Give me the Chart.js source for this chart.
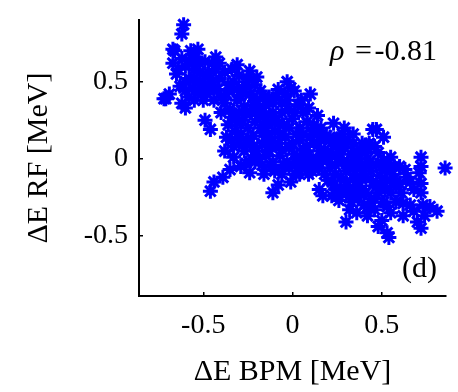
<!DOCTYPE html>
<html>
<head>
<meta charset="utf-8">
<script src="https://cdn.jsdelivr.net/npm/chart.js@4"></script>
<style>
  html, body { margin: 0; padding: 0; background: #fff; }
  #wrap { width: 458px; height: 392px; }
</style>
</head>
<body>
<div id="wrap"><canvas id="scatter"></canvas></div>
<script>
// energy deviation measured by the BPM (x) and by the RF (y), MeV
const dE_bpm = [
  -0.61, -0.62, -0.66, -0.67, -0.65, -0.71, -0.69, -0.62, -0.60, -0.55,
  -0.50, -0.57, -0.54, -0.49, -0.45, -0.43, -0.60, -0.58, -0.55, -0.52,
  -0.50, -0.47, -0.63, -0.60, -0.56, -0.53, -0.48, -0.45, -0.42, -0.40,
  -0.64, -0.52, -0.47, -0.58, -0.44, -0.53, -0.43, -0.41, -0.31, -0.24,
  -0.20, -0.67, -0.72, -0.49, -0.46,
  -0.34, -0.30, -0.25, -0.21, -0.18, -0.36, -0.33, -0.28, -0.24, -0.20,
  -0.38, -0.35, -0.31, -0.27, -0.23, -0.19, -0.15, -0.13, -0.36, -0.32,
  -0.28, -0.25, -0.22, -0.18, -0.14, -0.11, -0.30, -0.27, -0.24, -0.20,
  -0.17, -0.13, -0.10, -0.38, -0.33, -0.29, -0.26, -0.21, -0.17, -0.15,
  -0.44, -0.39, -0.46, -0.35, -0.24, -0.16,
  -0.08, -0.04, -0.03, 0.01, 0.10, -0.06, -0.02, 0.03, 0.06, -0.09,
  -0.05, 0.00, 0.04, 0.08, 0.12, 0.14, -0.08, -0.04, 0.00, 0.04,
  0.08, 0.12, 0.16, 0.18, -0.07, -0.03, 0.01, 0.05, 0.09, 0.13,
  0.17, -0.10, -0.06, -0.02, 0.03, 0.07, 0.11, -0.11, -0.08, -0.01,
  0.04, 0.12, -0.13, 0.15, 0.19, 0.05, -0.01,
  0.22, 0.25, 0.28, 0.31, 0.34, 0.38, 0.22, 0.26, 0.29, 0.33,
  0.37, 0.41, 0.44, 0.47, 0.51, 0.46, 0.55, 0.21, 0.24, 0.28,
  0.32, 0.35, 0.39, 0.43, 0.47, 0.51, 0.54, 0.20, 0.23, 0.27,
  0.30, 0.34, 0.37, 0.41, 0.45, 0.49, 0.53, 0.56, 0.22, 0.26,
  0.30, 0.33, 0.37, 0.40, 0.44, 0.48, 0.51, 0.55, 0.58, 0.30,
  0.32, 0.36, 0.42, 0.48, 0.46, 0.50, 0.53, 0.54, 0.55, 0.23,
  0.29, 0.34, 0.45, 0.15, 0.17,
  0.60, 0.63, 0.66, 0.61, 0.68, 0.72, 0.72, 0.71, 0.72, 0.72,
  0.855, 0.62, 0.62, 0.70, 0.72, 0.74, 0.77, 0.81, 0.73, 0.58,
  0.66,
  -0.62, -0.58, -0.55, -0.51, -0.46, -0.41, -0.38, -0.37, -0.33, -0.29,
  -0.26, -0.22, -0.16, -0.34, -0.30, -0.21, -0.16, -0.34, -0.23, -0.12,
  -0.11, -0.06, 0.02, 0.06, 0.10, 0.14, 0.02, 0.09, 0.20, 0.25,
  0.30, 0.36, 0.40, 0.43, 0.48, 0.52, 0.39, 0.47, 0.43, 0.35,
  0.25, 0.57, 0.64, 0.68, 0.53,
  -0.40, -0.37, -0.33, -0.31, -0.29, -0.26, -0.26, -0.22, -0.22, -0.19,
  -0.19, -0.16, -0.15, -0.14, -0.12, -0.11, -0.10, -0.09, -0.07, -0.06,
  -0.05, -0.03, -0.02, -0.02, 0.01, 0.02, 0.06, 0.07, 0.09, 0.10,
  0.11, 0.14, 0.15, 0.16, 0.18, 0.19, 0.21, 0.24, 0.26, 0.27,
  0.29, 0.31, 0.32, 0.34, 0.36, 0.38, 0.39, 0.41, 0.42, 0.44,
  0.46, 0.49, 0.50, 0.52, 0.57, 0.60, -0.56, -0.52, -0.49, -0.44,
  -0.60
];
const dE_rf = [
  0.87, 0.81, 0.70, 0.62, 0.55, 0.39, 0.42, 0.36, 0.33, 0.38,
  0.38, 0.70, 0.66, 0.63, 0.62, 0.58, 0.60, 0.52, 0.58, 0.50,
  0.55, 0.47, 0.47, 0.44, 0.46, 0.43, 0.42, 0.50, 0.45, 0.40,
  0.58, 0.62, 0.56, 0.40, 0.38, 0.71, 0.66, 0.62, 0.61, 0.57,
  0.53, 0.71, 0.39, 0.25, 0.19,
  0.58, 0.54, 0.52, 0.48, 0.44, 0.48, 0.45, 0.46, 0.42, 0.38,
  0.36, 0.32, 0.38, 0.34, 0.30, 0.28, 0.35, 0.40, 0.22, 0.18,
  0.25, 0.20, 0.15, 0.20, 0.24, 0.30, 0.10, 0.05, 0.10, 0.05,
  0.10, 0.14, 0.18, 0.05, 0.01, -0.05, -0.03, -0.02, -0.04, 0.02,
  -0.15, -0.12, -0.21, -0.07, -0.09, -0.10,
  0.45, 0.42, 0.50, 0.44, 0.42, 0.36, 0.32, 0.35, 0.30, 0.25,
  0.22, 0.26, 0.20, 0.24, 0.22, 0.16, 0.10, 0.14, 0.10, 0.12,
  0.08, 0.10, 0.12, 0.06, 0.02, -0.02, 0.03, -0.01, 0.02, -0.02,
  -0.01, -0.08, -0.10, -0.06, -0.08, -0.05, -0.08, -0.22, -0.17, -0.15,
  -0.10, -0.06, 0.05, 0.05, 0.15, 0.38, 0.46,
  0.10, 0.13, 0.16, 0.12, 0.10, 0.06, 0.02, 0.04, 0.07, 0.03,
  0.00, 0.04, 0.08, 0.19, 0.14, 0.08, 0.01, -0.06, -0.04, -0.02,
  -0.06, -0.08, -0.05, -0.02, -0.04, -0.01, -0.03, -0.14, -0.17, -0.12,
  -0.15, -0.13, -0.18, -0.12, -0.15, -0.11, -0.14, -0.10, -0.24, -0.27,
  -0.23, -0.28, -0.25, -0.30, -0.26, -0.22, -0.28, -0.22, -0.18, -0.41,
  -0.33, -0.35, -0.37, -0.44, -0.33, -0.40, -0.48, -0.51, -0.35, 0.23,
  0.20, 0.16, 0.19, -0.20, -0.24,
  -0.05, -0.07, -0.15, -0.22, -0.20, 0.01, -0.05, -0.09, -0.16, -0.22,
  -0.06, -0.29, -0.37, -0.41, -0.45, -0.37, -0.31, -0.34, -0.30, -0.28,
  -0.30,
  0.65, 0.64, 0.52, 0.45, 0.52, 0.52, 0.56, 0.42, 0.50, 0.41,
  0.47, 0.40, 0.40, 0.27, 0.30, 0.24, 0.17, 0.12, 0.00, 0.08,
  -0.02, 0.30, 0.16, 0.06, 0.14, 0.00, -0.03, -0.10, 0.00, 0.08,
  -0.08, 0.05, -0.08, 0.10, 0.04, -0.07, -0.20, -0.18, -0.31, -0.20,
  -0.20, -0.05, -0.12, -0.34, -0.31,
  0.30, 0.14, 0.08, 0.24, 0.16, 0.29, 0.12, 0.35, 0.08, 0.00,
  0.33, 0.28, 0.20, 0.08, -0.05, 0.36, 0.24, 0.40, 0.16, 0.06,
  -0.04, 0.38, 0.20, 0.07, 0.30, -0.10, 0.16, 0.02, 0.33, -0.02,
  0.18, 0.28, -0.06, 0.20, -0.10, 0.02, 0.14, -0.10, 0.00, -0.20,
  0.12, -0.02, -0.19, -0.24, -0.03, -0.12, 0.10, -0.22, 0.00, -0.08,
  -0.26, -0.16, -0.05, -0.20, -0.13, -0.16, 0.62, 0.56, 0.48, 0.44,
  0.50
];
const xTicks = [-0.5, 0, 0.5];
const xTickLabels = ['-0.5', '0', '0.5'];
const yTicks = [-0.5, 0, 0.5];
const yTickLabels = ['-0.5', '0', '0.5'];
const rhoText = '-0.81';
const panelLabel = '(d)';

const serif = "'Liberation Serif', 'Times New Roman', serif";

const notes = {
  id: 'notes',
  afterDraw(chart) {
    const ctx = chart.ctx;
    const area = chart.chartArea;
    ctx.save();
    ctx.fillStyle = '#000';
    ctx.textBaseline = 'alphabetic';
    ctx.textAlign = 'left';
    const ry = area.top + 40;
    ctx.font = 'italic 30px ' + serif;
    ctx.fillText('\u03c1', area.right - 116, ry);
    ctx.font = '30px ' + serif;
    ctx.fillText('=', area.right - 91, ry);
    ctx.textAlign = 'right';
    ctx.fillText(rhoText, area.right - 9, ry);
    ctx.fillText(panelLabel, area.right - 9, area.bottom - 19);
    ctx.restore();
  }
};

new Chart(document.getElementById('scatter'), {
  type: 'scatter',
  plugins: [notes],
  data: {
    datasets: [{
      data: dE_bpm.map((x, i) => ({ x: x, y: dE_rf[i] })),
      pointStyle: 'star',
      pointRadius: 7.5,
      pointBorderWidth: 3,
      borderColor: '#0000ff',
      backgroundColor: '#0000ff',
      clip: false,
    }]
  },
  options: {
    responsive: true,
    maintainAspectRatio: false,
    animation: false,
    layout: {
      padding: { top: 20, right: 12, left: 0, bottom: 0 }
    },
    plugins: {
      legend: { display: false },
      tooltip: { enabled: false },
    },
    scales: {
      x: {
        type: 'linear',
        min: -0.86,
        max: 0.86,
        afterFit: function (scale) {
          scale.height = 96;
          scale.paddingLeft = 0;
          scale.paddingRight = 0;
        },
        afterBuildTicks: function (scale) {
          scale.ticks = xTicks.map(v => ({ value: v }));
        },
        border: { display: true, color: '#000', width: 2 },
        grid: {
          drawOnChartArea: false,
          color: '#000',
          lineWidth: 1.5,
          tickLength: -4,
        },
        ticks: {
          color: '#000',
          padding: 17,
          maxRotation: 0,
          font: { family: serif, size: 28 },
          callback: function (value) {
            const i = xTicks.indexOf(value);
            return i >= 0 ? xTickLabels[i] : '';
          }
        },
        title: {
          display: true,
          text: '\u0394E BPM [MeV]',
          color: '#000',
          font: { family: serif, size: 30 },
          padding: { top: 0, bottom: 2 }
        }
      },
      y: {
        type: 'linear',
        min: -0.89,
        max: 0.9,
        afterFit: function (scale) {
          scale.width = 139;
          scale.paddingTop = 0;
          scale.paddingBottom = 0;
        },
        afterBuildTicks: function (scale) {
          scale.ticks = yTicks.map(v => ({ value: v }));
        },
        border: { display: true, color: '#000', width: 2 },
        grid: {
          drawOnChartArea: false,
          color: '#000',
          lineWidth: 1.5,
          tickLength: -4,
        },
        ticks: {
          color: '#000',
          padding: 15,
          font: { family: serif, size: 28 },
          callback: function (value) {
            const i = yTicks.indexOf(value);
            return i >= 0 ? yTickLabels[i] : '';
          }
        },
        title: {
          display: true,
          text: '\u0394E RF [MeV]',
          color: '#000',
          font: { family: serif, size: 30 },
          padding: { top: 21, bottom: 0 }
        }
      }
    }
  }
});
</script>
</body>
</html>
